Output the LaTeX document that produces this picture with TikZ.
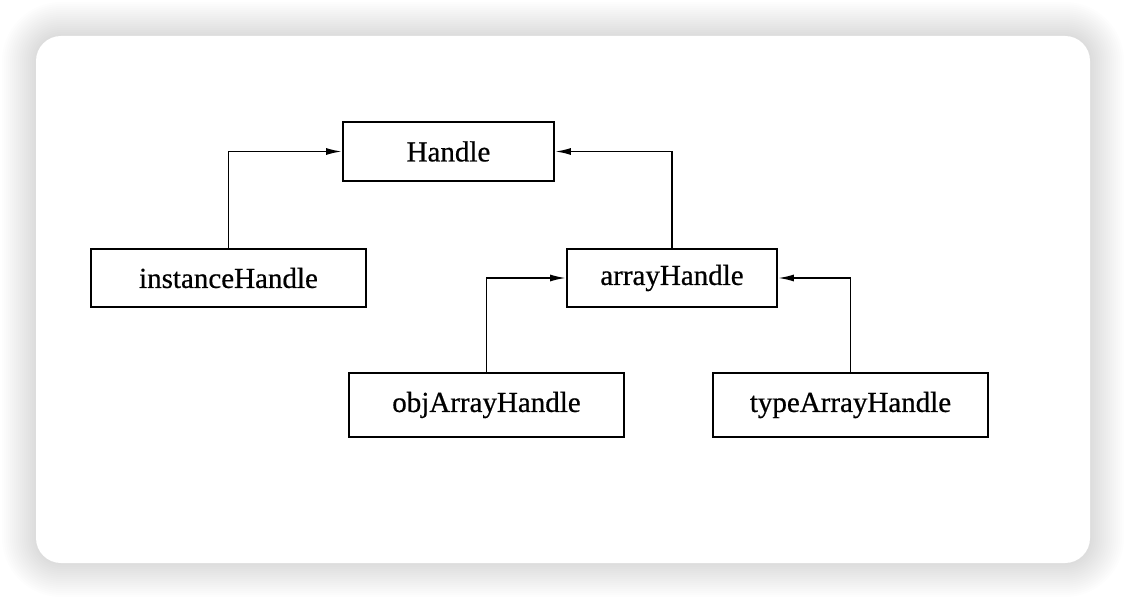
\documentclass[tikz,border=0pt]{standalone}
\usepackage{fontspec}
\setmainfont[FakeBold=0.6]{Liberation Serif}
\usetikzlibrary{arrows.meta}
\usetikzlibrary{positioning}

\begin{document}
\begin{tikzpicture}[
    x=1pt, y=1pt,
    box/.style={
        draw, line width=1.8pt,
        inner sep=0pt,
        minimum width=275pt,
        minimum height=58pt,
        font=\fontsize{29}{34}\selectfont,
        align=center
    },
    link/.style={
        -{Latex[length=16pt,width=7pt]},
        line width=1.8pt
    }
]
\useasboundingbox (0,0) rectangle (1126,600);
% card with soft shadow
\foreach \s in {2,4,...,34} {
    \fill[black, opacity=0.006, rounded corners={25pt+\s pt}]
        (36-\s,37-\s) rectangle (1090+\s,564+\s);
}
\fill[white, rounded corners=25pt] (36,37) rectangle (1090,564);

\node[box, minimum width=211pt, minimum height=59pt] (handle) at (448.5,448.5) {Handle};
\node[box] (instance) at (228.5,322) {instanceHandle};
\node[box, minimum width=210pt] (array) at (672,322) {arrayHandle};
\node[box, minimum height=64pt] (objarray) at (486.5,195) {objArrayHandle};
\node[box, minimum height=64pt] (typearray) at (850.5,195) {typeArrayHandle};

\draw[link] (instance.north) |- (handle.west);
\draw[link] (array.north) |- (handle.east);
\draw[link] (objarray.north) |- (array.west);
\draw[link] (typearray.north) |- (array.east);
\end{tikzpicture}
\end{document}
